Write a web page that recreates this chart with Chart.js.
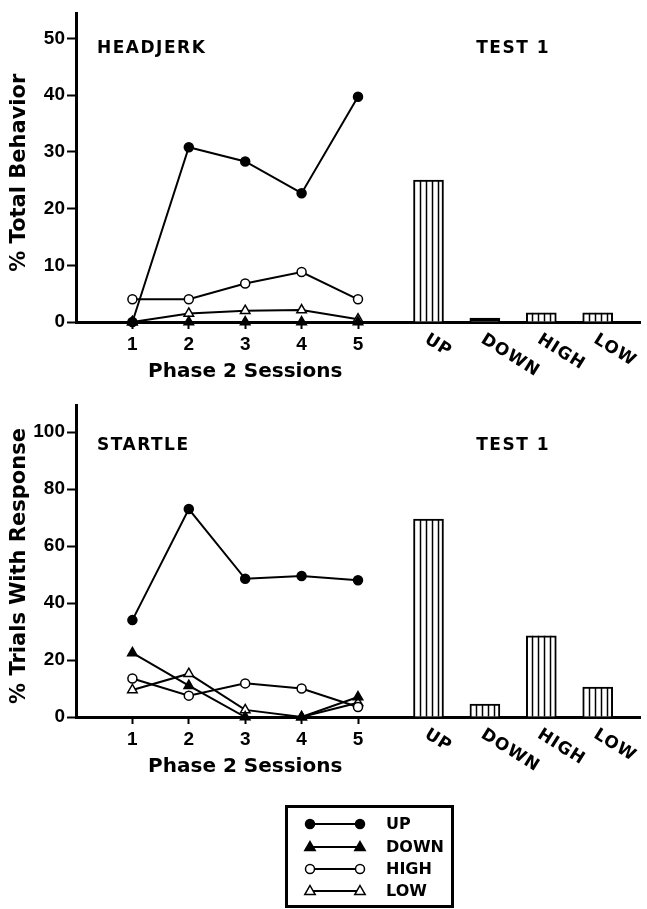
<!DOCTYPE html>
<html>
<head>
<meta charset="utf-8">
<script src="https://cdn.jsdelivr.net/npm/chart.js@4.4.1/dist/chart.umd.min.js"></script>
<style>
  html, body { margin: 0; padding: 0; background: #fff; }
  body { width: 647px; height: 909px; position: relative; overflow: hidden; }
  .panel { position: absolute; left: 0; width: 647px; }
  #headjerkPanel { top: 0; height: 390px; }
  #startlePanel { top: 390px; height: 519px; }
</style>
</head>
<body>
<div class="panel" id="headjerkPanel"><canvas id="headjerkChart"></canvas></div>
<div class="panel" id="startlePanel"><canvas id="startleChart"></canvas></div>
<script>
const sessions = [1, 2, 3, 4, 5];
const testGroups = ['UP', 'DOWN', 'HIGH', 'LOW'];
const seriesNames = ['UP', 'DOWN', 'HIGH', 'LOW'];

// headjerk: % of total behavior
const headjerkUp = [0, 30.8, 28.3, 22.7, 39.7];
const headjerkDown = [0, 0, 0, 0, 0];
const headjerkHigh = [4, 4, 6.8, 8.8, 4];
const headjerkLow = [0, 1.5, 2, 2.1, 0.5];
const headjerkTest = [25, 0.7, 1.6, 1.6];
const headjerkTicks = [0, 10, 20, 30, 40, 50];

// startle: % of trials with a response
const startleUp = [34, 73, 48.5, 49.5, 48];
const startleDown = [22.5, 11, 0, 0, 7];
const startleHigh = [13.5, 7.5, 11.8, 10, 3.5];
const startleLow = [9.5, 15.2, 2.5, 0, 5];
const startleTest = [69.5, 4.5, 28.5, 10.5];
const startleTicks = [0, 20, 40, 60, 80, 100];

const FONT = '"DejaVu Sans", sans-serif';
const NUM_FONT = '"Liberation Sans", Arial, sans-serif';
Chart.defaults.font.family = FONT;
Chart.defaults.color = '#000';

// marker look for UP / DOWN / HIGH / LOW
const markers = [
  { style: 'circle', fill: '#000', radius: 4.5 },
  { style: 'triangle', fill: '#000', radius: 5.5 },
  { style: 'circle', fill: '#fff', radius: 4.5 },
  { style: 'triangle', fill: '#fff', radius: 5.5 }
];

// test bars sit to the right of the sessions, a quarter step past the next slot
function testX(i) {
  return sessions.length + 1.25 + i;
}

function drawMarker(ctx, m, x, y) {
  ctx.beginPath();
  if (m.style === 'circle') {
    ctx.arc(x, y, m.radius, 0, Math.PI * 2);
  } else {
    const r = m.radius;
    ctx.moveTo(x, y - r);
    ctx.lineTo(x + r * 0.95, y + r * 0.65);
    ctx.lineTo(x - r * 0.95, y + r * 0.65);
    ctx.closePath();
  }
  ctx.fillStyle = m.fill;
  ctx.fill();
  ctx.lineWidth = 1.5;
  ctx.strokeStyle = '#000';
  ctx.stroke();
}

// vertical hatching inside the test bars; very short bars just go solid
const barStripes = {
  id: 'barStripes',
  afterDatasetsDraw(chart) {
    const ctx = chart.ctx;
    chart.data.datasets.forEach((ds, di) => {
      if (ds.type !== 'bar') return;
      chart.getDatasetMeta(di).data.forEach(el => {
        const p = el.getProps(['x', 'y', 'base', 'width'], true);
        const left = p.x - p.width / 2;
        ctx.save();
        if (p.base - p.y < 6) {
          ctx.fillStyle = '#000';
          ctx.fillRect(left, p.y, p.width, p.base - p.y);
        } else {
          ctx.strokeStyle = '#000';
          ctx.lineWidth = 1.5;
          for (let k = 1; k < 5; k++) {
            const lx = Math.round(left + k * 6) + 0.5;
            ctx.beginPath();
            ctx.moveTo(lx, p.y);
            ctx.lineTo(lx, p.base);
            ctx.stroke();
          }
        }
        ctx.restore();
      });
    });
  }
};

// panel labels, axis titles, slanted bar names and the key
const panelText = {
  id: 'panelText',
  afterDraw(chart, args, opts) {
    const ctx = chart.ctx;
    const area = chart.chartArea;
    const xs = chart.scales.x;
    ctx.save();
    ctx.fillStyle = '#000';

    ctx.font = 'bold 17px ' + FONT;
    ctx.letterSpacing = '1.5px';
    ctx.textBaseline = 'alphabetic';
    ctx.textAlign = 'left';
    ctx.fillText(opts.label, 97, opts.labelY);
    ctx.textAlign = 'center';
    const testMid = (xs.getPixelForValue(testX(0)) + xs.getPixelForValue(testX(testGroups.length - 1))) / 2;
    ctx.fillText('TEST 1', testMid, opts.labelY);

    ctx.letterSpacing = '0px';
    ctx.font = 'bold 20px ' + FONT;
    ctx.fillText('Phase 2 Sessions', xs.getPixelForValue(3), area.bottom + 55);

    ctx.save();
    ctx.translate(20, (area.top + area.bottom) / 2 + 5);
    ctx.rotate(-Math.PI / 2);
    ctx.textBaseline = 'middle';
    ctx.font = 'bold 21px ' + FONT;
    ctx.fillText(opts.yTitle, 0, 0);
    ctx.restore();

    ctx.font = 'bold 17px ' + FONT;
    ctx.letterSpacing = '1px';
    ctx.textAlign = 'left';
    ctx.textBaseline = 'top';
    testGroups.forEach((g, i) => {
      ctx.save();
      ctx.translate(xs.getPixelForValue(testX(i)) + 2, area.bottom + 9);
      ctx.rotate(0.56);
      ctx.fillText(g, 0, 0);
      ctx.restore();
    });

    if (opts.key) {
      ctx.letterSpacing = '0px';
      ctx.lineWidth = 3;
      ctx.strokeStyle = '#000';
      ctx.strokeRect(286.5, 416.5, 166, 100);
      const rows = [434, 457, 479, 501];
      ctx.font = 'bold 16px ' + FONT;
      ctx.textBaseline = 'middle';
      seriesNames.forEach((name, i) => {
        const y = rows[i];
        ctx.beginPath();
        ctx.lineWidth = 2;
        ctx.moveTo(310, y);
        ctx.lineTo(360, y);
        ctx.stroke();
        drawMarker(ctx, markers[i], 310, y);
        drawMarker(ctx, markers[i], 360, y);
        ctx.fillStyle = '#000';
        ctx.fillText(name, 386, y + 1);
      });
    }
    ctx.restore();
  }
};

function lineSet(name, values, m) {
  return {
    type: 'line',
    label: name,
    data: sessions.map((s, i) => ({ x: s, y: values[i] })),
    borderColor: '#000',
    borderWidth: 2,
    tension: 0,
    fill: false,
    clip: false,
    pointStyle: m.style,
    pointRadius: m.radius,
    pointBackgroundColor: m.fill,
    pointBorderColor: '#000',
    pointBorderWidth: 1.5
  };
}

function makePanel(canvasId, series, test, ticks, yMax, opts) {
  const tickFont = { family: NUM_FONT, size: 19, weight: 'bold' };
  const datasets = series.map((vals, i) => lineSet(seriesNames[i], vals, markers[i]));
  datasets.push({
    type: 'bar',
    label: 'TEST 1',
    data: testGroups.map((g, i) => ({ x: testX(i), y: test[i] })),
    backgroundColor: '#fff',
    borderColor: '#000',
    borderWidth: 2,
    barThickness: 30
  });

  return new Chart(document.getElementById(canvasId), {
    type: 'line',
    data: { datasets },
    options: {
      responsive: true,
      maintainAspectRatio: false,
      animation: false,
      devicePixelRatio: 1,
      layout: { padding: { top: opts.top, right: 0, bottom: 0, left: 0 } },
      scales: {
        x: {
          type: 'linear',
          min: 0,
          max: 10,
          offset: false,
          afterBuildTicks: s => { s.ticks = sessions.map(v => ({ value: v })); },
          afterFit: s => { s.height = opts.xHeight; },
          ticks: { font: tickFont, color: '#000', padding: 4, maxRotation: 0, autoSkip: false },
          grid: { display: true, offset: false, drawOnChartArea: false, drawTicks: true, tickLength: 7, tickWidth: 2, tickColor: '#000' },
          border: { display: true, width: 3, color: '#000' }
        },
        y: {
          min: 0,
          max: yMax,
          afterBuildTicks: s => { s.ticks = ticks.map(v => ({ value: v })); },
          afterFit: s => { s.width = 76; },
          ticks: { font: tickFont, color: '#000', padding: 2 },
          grid: { display: true, drawOnChartArea: false, drawTicks: true, tickLength: 9, tickWidth: 2, tickColor: '#000' },
          border: { display: true, width: 3, color: '#000' }
        }
      },
      plugins: {
        legend: { display: false },
        tooltip: { enabled: false },
        panelText: opts
      }
    },
    plugins: [barStripes, panelText]
  });
}

makePanel('headjerkChart',
  [headjerkUp, headjerkDown, headjerkHigh, headjerkLow], headjerkTest, headjerkTicks, 54.4,
  { top: 12, xHeight: 68, label: 'HEADJERK', labelY: 53, yTitle: '% Total Behavior', key: false });

makePanel('startleChart',
  [startleUp, startleDown, startleHigh, startleLow], startleTest, startleTicks, 109.5,
  { top: 15, xHeight: 192, label: 'STARTLE', labelY: 60, yTitle: '% Trials With Response', key: true });
</script>
</body>
</html>
